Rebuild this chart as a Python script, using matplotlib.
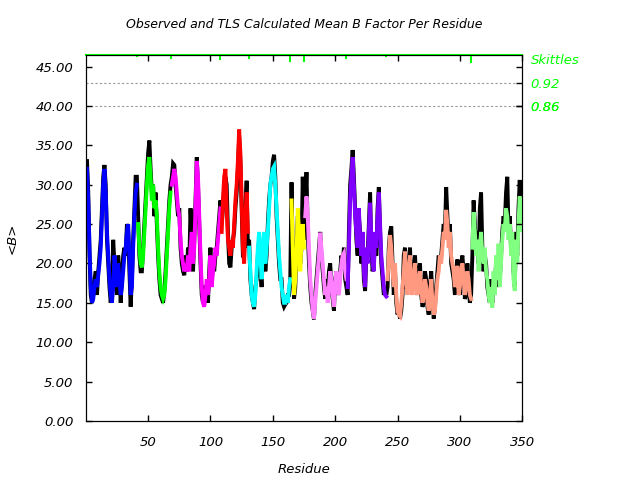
import matplotlib
matplotlib.use("Agg")
import matplotlib.pyplot as plt

plt.rcParams["font.family"] = "DejaVu Sans"
plt.rcParams["font.style"] = "italic"

# TLS segments: (first residue, colour, calculated <B> per residue)
seg_starts = [1, 42, 69, 109, 131, 165, 176, 210, 242, 310]
seg_colors = ["#0000ff", "#00ff00", "#ff00ff", "#ff0000", "#00ffff",
              "#ffff00", "#ff80ff", "#8000ff", "#ff9980", "#80ff80"]

calc_blue = [32, 28, 22, 17, 15, 15.5, 17, 18, 17, 18.5,
             20, 22, 26, 30, 32, 29, 24, 21, 18, 16,
             15, 17, 21, 19, 17, 20, 18, 16, 17, 19,
             21, 22, 24, 25, 21, 16, 17, 22, 26, 29,
             30]
calc_green = [25, 22, 20, 19.5, 21, 24, 27, 30, 32.5,
              33.5, 31, 28, 30, 27, 28, 26, 22, 19, 17,
              16, 15.5, 16, 18, 21, 24, 27, 29]
calc_magenta = [30, 31, 32, 31, 29, 27, 26, 23, 21, 20,
                19, 20, 19, 21, 19, 22, 24, 20, 22, 27,
                33, 31, 26, 21, 17, 15, 14.5, 16, 18, 16,
                18, 21, 17, 19, 20, 22, 21, 23, 25, 27]
calc_red = [24, 28, 31, 32, 27, 23, 22, 21, 23, 22,
            25, 28, 30, 33, 37, 34, 28, 22, 20, 26, 29, 24]
calc_cyan = [22, 19, 16, 15, 14.5, 16, 19, 22, 24, 21,
             18, 22, 24, 20, 22, 24, 27, 30, 31, 32,
             32.3, 30, 27, 24, 21, 19, 17, 16, 15, 15,
             16, 15, 17, 18]
calc_yellow = [28, 22, 16, 18, 21, 27, 24, 19, 23, 25, 22]
calc_violet = [26, 28.5, 26, 22, 18, 16, 14, 13, 15, 17,
               19, 21, 23.9, 22, 20, 18, 16, 17, 15, 17,
               19, 18, 16, 14.5, 17, 19, 17, 16, 18, 20,
               21, 21.3, 19, 18]
calc_purple = [17, 22, 28, 31, 33.5, 30, 26, 24, 22, 27,
               23, 21, 24, 19, 17, 22, 20, 24, 27.7, 23,
               20, 19, 24, 22, 26, 29, 25, 21, 19, 17,
               16, 15.8]
calc_salmon = [18, 21, 23.6, 22, 19, 17, 20, 16, 14, 13.5,
               13.3, 15, 17, 19, 21.5, 18, 16, 19, 21, 17,
               16, 18, 20, 17, 16, 18, 19, 17, 15, 16,
               18, 17, 15, 14, 16, 18, 15, 13.5, 14, 16,
               18, 19, 21, 20, 22, 24, 23, 26.8, 25, 22,
               24, 21, 20, 19, 17, 18, 19.7, 16, 17, 19,
               20, 18, 16, 17, 19, 18, 16, 15.5]
calc_lgreen = [22, 26.5, 24, 21, 23, 19, 22, 24, 21, 20,
               22, 19, 18, 16, 15, 17, 14.4, 19, 16, 21,
               18, 22.5, 17, 20, 23, 25, 24, 27, 26, 23,
               25, 21, 24, 18, 16.5, 23, 20, 25, 28.5, 24, 27]
calc_segments = [calc_blue, calc_green, calc_magenta, calc_red, calc_cyan,
                 calc_yellow, calc_violet, calc_purple, calc_salmon, calc_lgreen]

# observed mean B per residue, residues 1..350
observed = [33, 29, 21, 16, 15, 16, 18, 19, 16, 19,
            21, 23, 27, 31, 32.5, 30, 23, 20, 17, 15,
            17, 23, 20, 18, 16, 21, 19, 15, 18, 21,
            22, 21, 25, 24, 19, 14.5, 18, 23, 27, 31,
            31,
            26, 21, 19, 19, 22, 25, 28, 31, 34,
            35.6, 32, 29, 30, 26, 29, 25, 21, 18, 16,
            15.5, 15, 16.5, 19, 22, 25, 28, 30,
            31, 32.7, 32.5, 30, 28, 26, 27, 22, 20, 19,
            18.5, 21, 19, 22, 20, 27, 23, 19, 23, 28,
            33.5, 30, 25, 20, 16, 15, 15.5, 17, 17, 15,
            19, 22, 17.5, 20, 19, 21, 22, 24, 26, 28,
            25, 27, 30, 31, 30, 24, 20, 19.5, 22, 23,
            24, 27, 29, 32, 36, 33, 27, 21, 21, 27, 30.5, 22,
            23, 18, 16, 15, 14.2, 17, 18, 21, 23, 19,
            17, 21, 23, 19, 21, 25, 28, 30, 31, 33,
            33.8, 31, 26, 23, 20, 18, 18, 15, 14.5, 14.8,
            15, 16, 16, 18,
            30.3, 21, 15.5, 17, 22, 26, 25, 20, 22, 31, 23,
            27, 31.6, 24, 20, 17, 15, 14, 12.9, 16, 18,
            20, 22, 24, 21, 19, 17, 15.5, 18, 16, 19,
            20, 17, 15.5, 14, 18, 19, 16, 17, 19, 21,
            20, 22, 18, 17,
            16, 24, 30, 32, 34.4, 31, 27, 23, 21, 26,
            24, 20, 23, 18, 16.5, 21, 21, 25, 29, 22,
            19, 20, 23, 21, 27, 29.7, 24, 20, 18, 16,
            17, 16,
            17, 22, 24, 24.7, 20, 16, 19, 15, 13.5, 14,
            13, 14, 16, 21, 22, 17, 17, 20, 22, 18,
            17, 19, 21, 18, 16, 19, 20, 16, 14.5, 15,
            19, 18, 14.5, 13.5, 17, 19, 16, 13, 14.5, 17,
            19, 21, 20, 21, 23, 25, 24, 29.7, 26, 23,
            25, 20, 19, 18, 16, 19, 20.5, 17, 16, 20,
            21, 19, 15.5, 16, 20, 17, 15, 16,
            21, 28, 25, 22, 24, 20, 27, 29, 22, 19,
            21, 20, 17, 16, 15, 18, 15, 18, 17, 20,
            17, 21, 18, 21, 24, 26, 25, 29, 31, 24,
            26, 22, 23, 19, 17, 24, 21, 27, 30.6, 26, 28]

# segment boundary marks along the top edge (residue, depth in B units)
mark_res = [41, 68, 108, 131, 164, 175, 209, 241, 309]
mark_depth = [0.15, 0.4, 0.5, 0.4, 0.75, 0.75, 0.4, 0.15, 0.9]

skittle_levels = [42.9, 40.0]
skittle_labels = ["0.92", "0.86"]

residues = list(range(1, len(observed) + 1))

fig = plt.figure(figsize=(6.4, 4.8), dpi=100)
ax = fig.add_axes([0.134, 0.123, 0.682, 0.763])

ax.plot(residues, observed, color="black", lw=2.8, solid_joinstyle="miter", zorder=2)
for start, color, vals in zip(seg_starts, seg_colors, calc_segments):
    xs = list(range(start, start + len(vals)))
    ax.plot(xs, vals, color=color, lw=2.8, solid_joinstyle="miter", zorder=3)

for lev in skittle_levels:
    ax.axhline(lev, color="#999999", lw=0.8, ls=(0, (2, 2)), zorder=1)

ax.set_xlim(0, 350)
ax.set_ylim(0, 46.5)
ax.set_xticks(range(50, 351, 50))
ax.set_yticks([i * 5 for i in range(10)])
ax.set_yticklabels(["%.2f" % (i * 5) for i in range(10)])
ax.tick_params(direction="in", length=4, width=1, labelsize=9.5, top=True,
               pad=9, colors="black")
ax.tick_params(axis="x", pad=11)

ax.axhline(46.5, color="#00ff00", lw=1.5, clip_on=False, zorder=5)
for r, d in zip(mark_res, mark_depth):
    ax.plot([r, r], [46.5, 46.5 - d], color="#00ff00", lw=1.5, zorder=5)

ax2 = ax.twinx()
ax2.set_ylim(0, 46.5)
ax2.set_yticks([i * 5 for i in range(10)] + skittle_levels)
ax2.set_yticklabels([""] * 10 + skittle_labels)
ax2.tick_params(direction="in", length=4, width=1, labelsize=9.5,
                labelcolor="#00ff00", pad=6)
ax2.text(1.02, 45.8, "Skittles", transform=ax2.get_yaxis_transform(),
         color="#00ff00", fontsize=9.5, va="center", ha="left")

ax.set_title("Observed and TLS Calculated Mean B Factor Per Residue",
             fontsize=9, pad=19)
ax.set_xlabel("Residue", fontsize=9.5, labelpad=10)
ax.set_ylabel("<B>", fontsize=9.5, labelpad=12)

fig.savefig("out.png", dpi=100)
